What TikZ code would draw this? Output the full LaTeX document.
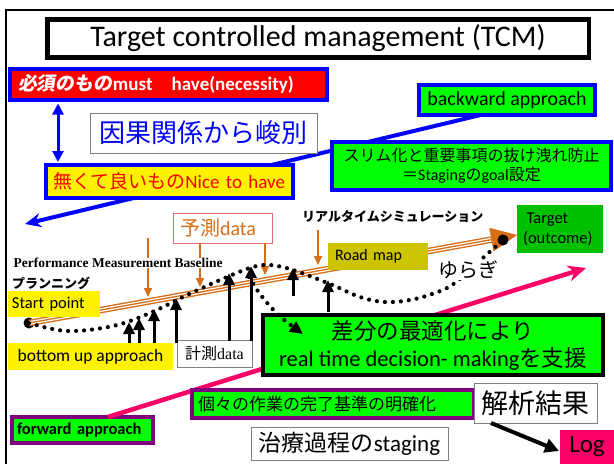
\documentclass[tikz,border=0pt]{standalone}
\usepackage{fontspec}
\setmainfont{Carlito}
\newfontfamily\jp{Noto Sans CJK JP}
\newfontfamily\jpsl[FakeSlant=0.15]{Noto Sans CJK JP}
\newfontfamily\tms{Liberation Serif}
\usetikzlibrary{arrows.meta,calc}
\definecolor{bblue}{RGB}{0,0,255}
\definecolor{lgreen}{RGB}{0,255,0}
\definecolor{tgreen}{RGB}{0,192,0}
\definecolor{olivey}{RGB}{204,196,0}
\definecolor{purp}{RGB}{128,0,128}
\definecolor{hotpink}{RGB}{255,0,102}
\definecolor{orng}{RGB}{214,110,24}
\definecolor{predline}{RGB}{222,110,110}
\newcommand\fsz[2]{\fontsize{#1}{#2}\selectfont}

\begin{document}
\begin{tikzpicture}[x=1pt,y=-1pt,
  box/.style={rectangle, inner ysep=0pt, outer sep=0pt, text=black},
  thickbox/.style={box, line width=4pt},
  thinbox/.style={box, draw=gray, line width=0.8pt, fill=white},
  dotline/.style={line width=4.2pt, dash pattern=on 0pt off 8pt, line cap=round},
  uparrow/.style={line width=3pt, -{Triangle[length=12pt,width=11pt]}},
  predarrow/.style={orng, line width=2pt, -{Triangle[length=9pt,width=8pt]}},
  endpoint/.style={circle, fill=black, minimum size=11pt, inner sep=0pt},
]
\useasboundingbox (0,0) rectangle (614,464);

% outer frame
\draw[line width=1.6pt] (6,464) -- (6,10) -- (614,10);

% title
\node[box, draw=black, line width=4.5pt, fill=white, minimum width=541.5pt,
      minimum height=38pt, font=\fsz{30}{36}] (title) at (318,38.5)
      {Target controlled management (TCM)};

% long approach connectors (behind the boxes)
\node[thickbox, draw=bblue, fill=lgreen, minimum width=176pt, minimum height=30pt,
      font=\fsz{20}{23}] (bwd) at (507,100) {backward approach};
\node[thickbox, draw=purp, fill=lgreen, text width=131pt, inner xsep=5pt,
      minimum height=26pt, align=left, font=\bfseries\fsz{16.5}{19}] (fwd) at (82.5,430)
      {forward approach};
\coordinate (bwdtip) at (25,224);
\coordinate (fwdtip) at (586,268);
\draw[bblue, line width=4pt, -{Stealth[length=16pt,width=14pt]}]
  ($(bwd.south west)!0.35!(bwd.south east)$) -- (bwdtip);
\draw[hotpink, line width=4.5pt, -{Stealth[length=18pt,width=16pt]}]
  ($(fwd.north west)!0.68!(fwd.north east)$) -- (fwdtip);

% must / nice-to-have
\node[thickbox, draw=bblue, fill=red, text width=301pt, inner xsep=8pt,
      minimum height=31pt, align=left, text=white, font=\bfseries\fsz{19}{22}] (must)
      at (168.5,84) {{\jpsl 必須のもの}must\ \ \ have(necessity)};
\node[thinbox, minimum width=227pt, minimum height=40pt, text=bblue,
      font=\jp\fsz{26}{30}] (cause) at (203.5,133) {因果関係から峻別};
\node[thickbox, draw=bblue, fill=yellow, text width=233pt, inner xsep=7pt,
      minimum height=33pt, align=left, text=red, font=\fsz{19}{22}] (nice)
      at (169.5,181.5) {{\jp 無くて良いもの}Nice to have};
\draw[bblue, line width=3pt, {Triangle[length=11pt,width=11pt]}-{Triangle[length=11pt,width=11pt]}]
  ($(must.south west)+(48,4)$) -- ($(nice.north west)+(12,-3)$);

\node[thickbox, draw=bblue, fill=lgreen, minimum width=279pt, minimum height=48pt,
      align=center, font=\fsz{16}{19}] (slim) at (471.5,166)
      {{\jp スリム化と重要事項の抜け洩れ防止}\\{\jp ＝}Staging{\jp の}goal{\jp 設定}};

% road map: planned baseline (triple line) from start point to target
\node[box, fill=tgreen, text width=74pt, inner xsep=6pt, minimum height=48pt,
      align=left, font=\fsz{16.5}{20}] (tgt) at (560,229)
      {\hspace*{3.7pt}Target\\(outcome)};
\node[endpoint] (sdot) at (29,323) {};
\coordinate (rmtip) at (517,235);
\coordinate (rmbase) at ($(rmtip)!26pt!(sdot.center)$);
\draw[orng, line width=6.6pt] (sdot.center) -- (rmbase);
\draw[white, line width=3.8pt] (sdot.center) -- (rmbase);
\draw[orng, line width=1.3pt] (sdot.center) -- (rmbase);
\fill[orng] (rmtip) -- ($(rmbase)!12pt!90:(rmtip)$) -- ($(rmbase)!12pt!-90:(rmtip)$) -- cycle;

% predicted data
\node[box, draw=predline, line width=0.8pt, fill=white, text width=85pt, inner xsep=7pt,
      minimum height=30pt, align=left, text=orng, font=\fsz{20}{24}] (pred)
      at (222.5,228) {{\jp 予測}data};
\draw[predarrow] (148,238) -- (148,297);
\draw[predarrow] (pred.south -| 200,0) -- (200,287);
\draw[predarrow] (pred.south -| 265,0) -- (265,275);
\draw[predarrow] (318,230) -- (318,265);

% actual trajectory (fluctuation)
\node[endpoint] (edot) at (503,240) {};
\draw[dotline] plot[smooth, tension=0.6] coordinates {(29,323) (67,331) (113,326)
  (150,313) (187,295) (227,277) (253,267) (270,265) (293,270) (330,284) (360,297)
  (385,302) (410,300) (432,294) (452,285) (475,265) (503,240)};
\node[inner sep=1pt, fill=white, font=\jp\fsz{20}{24}] (yur) at (468,270) {ゆらぎ};

\node[anchor=west, inner sep=0.5pt, fill=white, font=\tms\bfseries\fsz{13.5}{16}] (pmb)
      at (13,263) {Performance Measurement Baseline};
\node[anchor=west, inner sep=0pt, font=\jp\bfseries\fsz{13}{15}] (rts) at (302,217)
      {リアルタイムシミュレーション};
\node[anchor=west, inner sep=0pt, font=\jp\bfseries\fsz{13}{15}] (plan) at (12,283)
      {プランニング};

\node[box, fill=olivey, text width=86pt, inner xsep=7pt, minimum height=27pt,
      align=left, font=\fsz{16}{19}] (road) at (378,256.5) {Road map};
\node[box, fill=yellow, text width=84pt, inner xsep=4pt, minimum height=26pt,
      align=left, font=\fsz{16.5}{19}] (start) at (54,304) {Start point};
\node[box, fill=yellow, minimum width=165pt, minimum height=27pt,
      font=\fsz{17.5}{20}] (bup) at (90.5,356.5) {bottom up approach};
\node[thinbox, minimum width=75pt, minimum height=27pt, font=\fsz{16}{19}] (meas)
      at (214.5,353.5) {{\jp 計測}{\tms data}};

% optimisation of the difference
\node[thickbox, draw=black, fill=lgreen, minimum width=340pt, minimum height=60pt,
      align=center, font=\fsz{22.5}{27}] (opt) at (433,345)
      {{\jp 差分の最適化により}\\real time decision- making{\jp を支援}};

% measured data
\foreach \x/\yb/\yt in {129/343/322, 139/343/318, 154/343/309, 176/343/298,
                        229/341/273, 251/341/266, 293/296/268, 328/312/280}
  \draw[uparrow] (\x,\yb) -- (\x,\yt);

\draw[dotline, -{Triangle[length=13pt,width=12pt]}]
  (249,277) .. controls (262,300) and (278,316) .. (303,334);

% bottom row
\node[thickbox, draw=purp, fill=lgreen, text width=270pt, inner xsep=6pt,
      minimum height=28pt, align=left, font=\jp\fsz{17}{20}] (crit) at (333,404)
      {個々の作業の完了基準の明確化};
\node[thinbox, minimum width=123pt, minimum height=40pt, font=\jp\fsz{27}{32}] (ana)
      at (535.5,403) {解析結果};
\node[thinbox, minimum width=197pt, minimum height=33pt, font=\fsz{23}{27}] (stag)
      at (349.5,443.5) {{\jp 治療過程の}staging};
\node[box, fill=hotpink, minimum width=54pt, minimum height=34pt, font=\fsz{25}{30}]
      (log) at (587,447) {Log};
\draw[line width=4pt, -{Triangle[length=14pt,width=14pt]}]
  ($(ana.south west)+(17,0)$) -- ($(log.west)+(-1,4)$);
\end{tikzpicture}
\end{document}
